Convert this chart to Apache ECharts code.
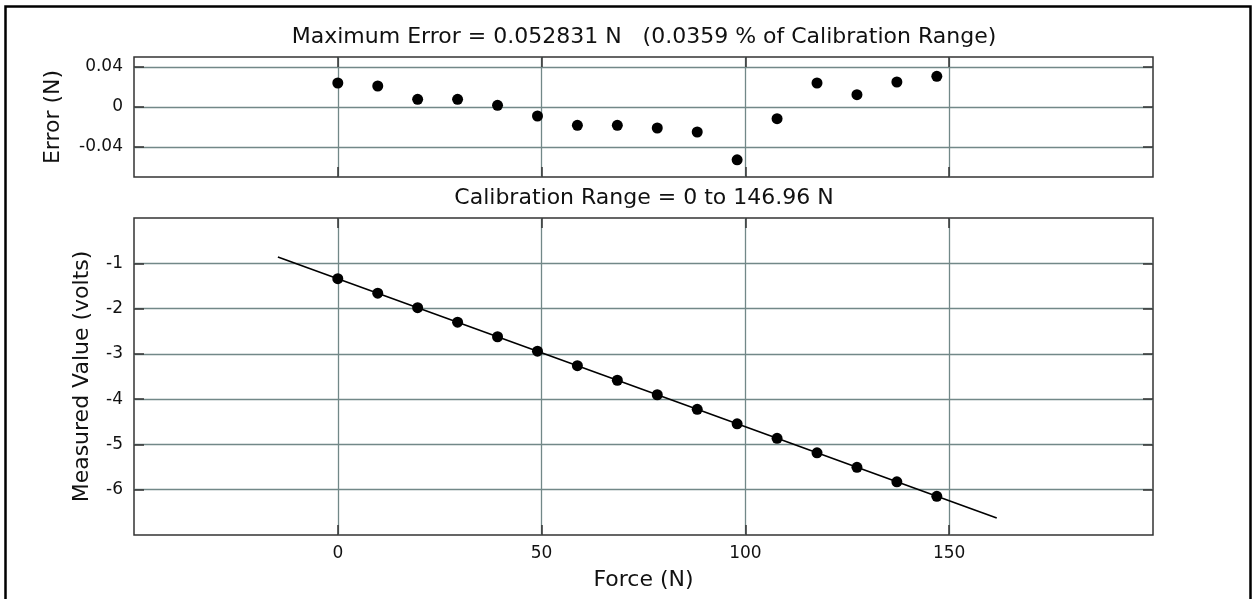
<!DOCTYPE html>
<html>
<head>
<meta charset="utf-8">
<script src="https://cdn.jsdelivr.net/npm/echarts@6/dist/echarts.min.js"></script>
<style>
html,body{margin:0;padding:0;background:#fff;}
#chart{width:1252px;height:599px;}
</style>
</head>
<body>
<div id="chart"></div>
<script>
// ---- data ----
const forceN = [0, 9.80, 19.59, 29.39, 39.19, 48.99, 58.78, 68.58, 78.38, 88.18, 97.97, 107.77, 117.57, 127.37, 137.16, 146.96];
const errorN = [0.024, 0.021, 0.0077, 0.0077, 0.0017, -0.009, -0.0183, -0.0183, -0.021, -0.025, -0.0528, -0.0117, 0.024, 0.0123, 0.025, 0.0307];
const measuredV = [-1.340, -1.660, -1.981, -2.301, -2.622, -2.942, -3.262, -3.583, -3.903, -4.224, -4.544, -4.864, -5.185, -5.505, -5.826, -6.146];
const fitForce = [-14.70, 161.66];
const fitVolts = [-0.859, -6.626];
const xTicks = [0, 50, 100, 150];
const errTicks = [-0.04, 0, 0.04];
const voltTicks = [-6, -5, -4, -3, -2, -1];
const titleTop = 'Maximum Error = 0.052831 N   (0.0359 % of Calibration Range)';
const titleBottom = 'Calibration Range = 0 to 146.96 N';

const FONT = 'DejaVu Sans';
const gridColor = '#728888';
const frameColor = '#333333';

function zip(a, b) { return a.map((v, i) => [v, b[i]]); }

function valAxis(extra) {
  const base = {
    type: 'value',
    axisLine: { show: false, onZero: false },
    axisTick: { show: true, inside: true, length: 10, lineStyle: { color: frameColor, width: 1.5 } },
    axisLabel: { show: true, color: '#111', fontFamily: FONT, fontSize: 17 },
    splitLine: { show: true, lineStyle: { color: gridColor, width: 1.3 } }
  };
  const out = Object.assign({}, base, extra);
  if (extra.axisTick) out.axisTick = Object.assign({}, base.axisTick, extra.axisTick);
  if (extra.axisLabel) out.axisLabel = Object.assign({}, base.axisLabel, extra.axisLabel);
  if (extra.splitLine) out.splitLine = Object.assign({}, base.splitLine, extra.splitLine);
  return out;
}

const chart = echarts.init(document.getElementById('chart'));
const option = {
  animation: false,
  backgroundColor: '#fff',
  textStyle: { fontFamily: FONT },
  title: [
    { text: titleTop, left: 644, top: 26, textAlign: 'center', padding: 0,
      textStyle: { fontFamily: FONT, fontSize: 22, fontWeight: 'normal', color: '#111' } },
    { text: titleBottom, left: 644, top: 187, textAlign: 'center', padding: 0,
      textStyle: { fontFamily: FONT, fontSize: 22, fontWeight: 'normal', color: '#111' } }
  ],
  grid: [
    { left: 134, top: 57, width: 1019, height: 120, show: true, borderColor: frameColor, borderWidth: 1.5, backgroundColor: 'transparent' },
    { left: 134, top: 218, width: 1019, height: 317, show: true, borderColor: frameColor, borderWidth: 1.5, backgroundColor: 'transparent' }
  ],
  xAxis: [
    valAxis({ gridIndex: 0, min: -50, max: 200, position: 'bottom',
      axisTick: { customValues: xTicks }, axisLabel: { show: false, customValues: xTicks } }),
    valAxis({ gridIndex: 1, min: -50, max: 200, position: 'bottom',
      name: 'Force (N)', nameLocation: 'middle', nameGap: 34,
      nameTextStyle: { fontFamily: FONT, fontSize: 22, color: '#111' },
      axisTick: { customValues: xTicks }, axisLabel: { margin: 10, customValues: xTicks } }),
    valAxis({ gridIndex: 0, min: -50, max: 200, position: 'top',
      axisTick: { customValues: xTicks }, axisLabel: { show: false, customValues: xTicks }, splitLine: { show: false } }),
    valAxis({ gridIndex: 1, min: -50, max: 200, position: 'top',
      axisTick: { customValues: xTicks }, axisLabel: { show: false, customValues: xTicks }, splitLine: { show: false } })
  ],
  yAxis: [
    valAxis({ gridIndex: 0, min: -0.07, max: 0.05, position: 'left',
      name: 'Error (N)', nameLocation: 'middle', nameGap: 70,
      nameTextStyle: { fontFamily: FONT, fontSize: 22, color: '#111' },
      axisTick: { customValues: errTicks }, axisLabel: { margin: 11, customValues: errTicks } }),
    valAxis({ gridIndex: 1, min: -7, max: 0, position: 'left',
      name: 'Measured Value (volts)', nameLocation: 'middle', nameGap: 41,
      nameTextStyle: { fontFamily: FONT, fontSize: 22, color: '#111' },
      axisTick: { customValues: voltTicks }, axisLabel: { margin: 11, customValues: voltTicks } }),
    valAxis({ gridIndex: 0, min: -0.07, max: 0.05, position: 'right',
      axisTick: { customValues: errTicks }, axisLabel: { show: false, customValues: errTicks }, splitLine: { show: false } }),
    valAxis({ gridIndex: 1, min: -7, max: 0, position: 'right',
      axisTick: { customValues: voltTicks }, axisLabel: { show: false, customValues: voltTicks }, splitLine: { show: false } })
  ],
  series: [
    { type: 'scatter', xAxisIndex: 0, yAxisIndex: 0, data: zip(forceN, errorN),
      symbol: 'circle', symbolSize: 11, itemStyle: { color: '#000', opacity: 1 }, z: 5 },
    { type: 'line', xAxisIndex: 1, yAxisIndex: 1, data: zip(fitForce, fitVolts),
      symbol: 'none', lineStyle: { color: '#000', width: 1.6 }, z: 4 },
    { type: 'scatter', xAxisIndex: 1, yAxisIndex: 1, data: zip(forceN, measuredV),
      symbol: 'circle', symbolSize: 11, itemStyle: { color: '#000', opacity: 1 }, z: 5 }
  ],
  graphic: [
    { type: 'rect', left: 3, top: 4, z: 100, silent: true,
      shape: { width: 1245, height: 640 },
      style: { fill: 'none', stroke: '#000', lineWidth: 2.5 } }
  ]
};
chart.setOption(option);
</script>
</body>
</html>
